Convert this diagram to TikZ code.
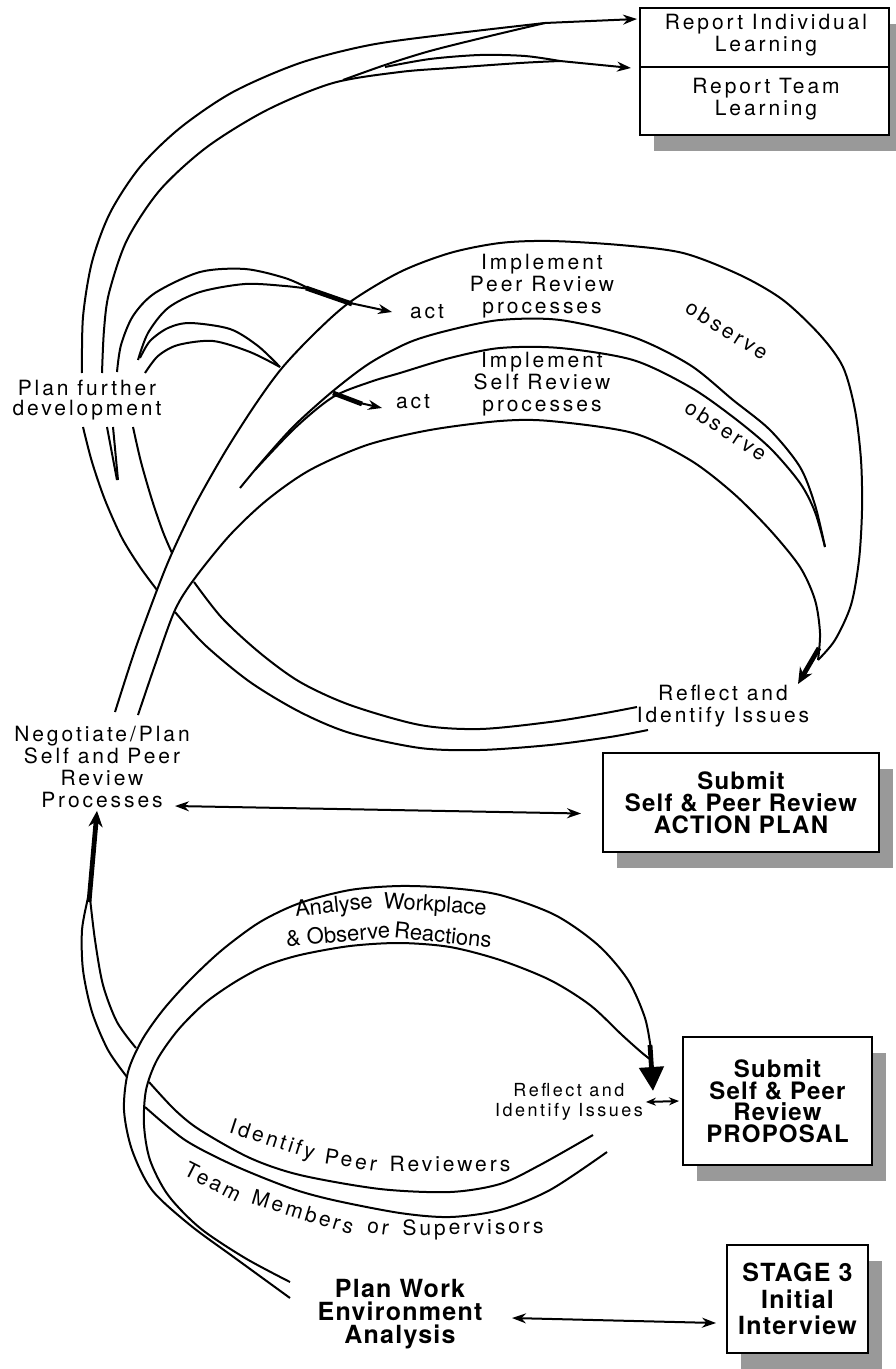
\documentclass[tikz,border=0pt]{standalone}
\usepackage{fontspec}
\setmainfont{TeX Gyre Heros}
\newfontfamily\lblfont{TeX Gyre Heros}[LetterSpace=14]
\newfontfamily\boxfont{TeX Gyre Heros}[LetterSpace=5]
\newfontfamily\curvefont{TeX Gyre Heros}
\usetikzlibrary{arrows.meta, shadows}
\tikzset{
	arrow/.style={
		draw=black,
		line width=1pt,
		-{Stealth[length=7pt,width=5pt]}
	},
	dblarrow/.style={
		draw=black,
		line width=1pt,
		{Stealth[length=7pt,width=5pt]}-{Stealth[length=7pt,width=5pt]}
	},
	fatarrow/.style={
		draw=black,
		line width=2.4pt,
		-{Stealth[length=8pt,width=7pt]}
	},
	lbl/.style={
		font=\lblfont\fontsize{10.5}{11}\selectfont,
		align=center,
		inner sep=1pt
	},
	anlbl/.style={
		font=\curvefont\fontsize{11}{11}\selectfont,
		inner sep=1pt
	},
	shadowbox/.style={
		draw=black,
		fill=white,
		line width=1pt,
		align=center,
		inner sep=1pt,
		font=\boxfont\bfseries\fontsize{12}{11}\selectfont,
		drop shadow={shadow xshift=7pt, shadow yshift=-8pt, fill=black!40, opacity=1}
	},
}

\begin{document}
\begin{tikzpicture}[x=0.5pt, y=-0.5pt, line width=1pt]
\useasboundingbox (0,0) rectangle (895,1369);

% Report boxes
\node[shadowbox, minimum width=124.5pt, minimum height=63.5pt] (RepBox) at (764.5,71.5) {};
\node[lbl, font=\lblfont\fontsize{10.5}{9.5}\selectfont] (RepInd) at (766,35) {Report Individual\\Learning};
\node[lbl, font=\lblfont\fontsize{10.5}{9.5}\selectfont] (RepTeam) at (766,99) {Report Team\\Learning};
\coordinate (RepMid) at (764.5,67);
\draw (RepBox.west |- RepMid) -- (RepBox.east |- RepMid);
\path (RepBox.north west) ++(-2,12) coordinate (RepIn1);
\path (RepBox.west |- RepMid) ++(-8,1) coordinate (RepIn2);

% Submission boxes
\node[shadowbox, minimum width=138pt, minimum height=49.5pt] (ActPlan) at (741,802.5) {Submit\\Self \& Peer Review\\ACTION PLAN};
\node[shadowbox, minimum width=94.5pt, minimum height=64pt, font=\boxfont\bfseries\fontsize{12}{10.8}\selectfont] (Proposal) at (777.5,1101) {Submit\\Self \& Peer\\Review\\PROPOSAL};
\node[shadowbox, minimum width=70.5pt, minimum height=54pt, font=\boxfont\bfseries\fontsize{12.5}{13.2}\selectfont] (Stage) at (797.5,1299) {STAGE 3\\Initial\\Interview};

% Labels
\node[lbl, font=\lblfont\fontsize{10.5}{10}\selectfont] (PlanFurther) at (87,400) {Plan further\\development};
\node[lbl] (NegPlan) at (102,767) {Negotiate/Plan\\Self and Peer\\Review\\Processes};
\node[lbl] (RefTop) at (723,706) {Reflect and\\Identify Issues};
\node[lbl] (ImplPeer) at (542,286) {Implement\\Peer Review\\processes};
\node[lbl] (ImplSelf) at (542,384) {Implement\\Self Review\\processes};
\node[lbl] (ActPeer) at (427,312) {act};
\node[lbl] (ActSelf) at (413,402) {act};
\node[lbl, font=\lblfont\fontsize{9}{10}\selectfont] (RefLow) at (569,1102) {Reflect and\\Identify Issues};
\node[lbl, font=\boxfont\bfseries\fontsize{12.5}{11.5}\selectfont] (PlanWork) at (400,1314) {Plan Work\\Environment\\Analysis};

% Top ribbon to the report boxes
\draw plot[smooth] coordinates {(82,373) (83,317) (92,262) (110,213) (140,167) (180,128) (233,92) (300,63) (370,45) (450,34) (545,23)};
\draw plot[smooth] coordinates {(343,80) (385,65) (430,51) (490,36) (545,23)};
\draw[arrow] (545,23) -- (RepIn1);
\draw plot[smooth] coordinates {(385,67) (430,59) (480,55) (525,56) (560,61)};
\draw plot[smooth] coordinates {(102,373) (104,330) (109,293) (127,240) (160,190) (207,147) (267,110) (333,83) (400,72) (450,68) (520,63) (560,61)};
\draw[arrow] (560,61) -- (RepIn2);

% Act arrows
\draw plot[smooth] coordinates {(117,372) (121,345) (133,316) (155,293) (200,272) (245,269) (285,278) (310,289)};
\draw plot[smooth] coordinates {(138,360) (148,333) (168,308) (200,292) (245,284) (285,286) (310,289)};
\draw[line width=2.4pt] (306,288) -- (352,304);
\draw[arrow] (350,303) -- ([xshift=-7.5pt]ActPeer.west);
\draw plot[smooth] coordinates {(140,358) (150,341) (168,328) (190,323) (230,329) (258,346) (280,367)};
\draw plot[smooth] coordinates {(145,373) (158,356) (178,345) (213,341) (250,352) (280,367)};
\draw[line width=2.4pt] (333,393) -- (362,404);
\draw[arrow] (360,403) -- ([xshift=-5.5pt,yshift=-3pt]ActSelf.west);

% Peer and self review cycles
\draw plot[smooth] coordinates {(115,712) (135,650) (157,590) (172,553) (195,505) (225,452) (255,405) (282,368) (315,333) (350,302) (400,272) (450,253) (500,243) (550,241) (620,245) (683,253) (740,275) (783,300) (820,335) (843,367) (855,410) (861,460) (862,510) (859,560) (851,605) (835,640) (818,660)};
\draw plot[smooth] coordinates {(138,715) (155,665) (175,610) (195,578) (230,535) (267,500) (310,470) (367,445) (430,430) (500,421) (550,421) (633,433) (690,460) (733,493) (770,530) (800,567) (815,600) (820,633) (818,660)};
\draw plot[smooth] coordinates {(240,488) (265,458) (295,425) (333,391) (370,363) (410,342) (450,330) (500,320) (560,320) (633,337) (690,365) (733,400) (770,430) (800,467) (815,505) (825,547)};
\draw plot[smooth] coordinates {(255,470) (295,428) (333,397) (370,382) (400,373) (450,358) (500,348) (560,348) (633,360) (690,387) (733,417) (770,448) (800,483) (815,512) (825,547)};
\coordinate (RefTip) at (798,684);
\draw[fatarrow] (819,648) -- (RefTip);
\node[lbl, rotate=-32] (ObsPeer) at (727,330) {observe};
\node[lbl, rotate=-33] (ObsSelf) at (726,430) {observe};

% Reflection loop back to further development
\draw plot[smooth] coordinates {(83,427) (92,462) (105,500) (122,538) (140,567) (157,590)};
\draw plot[smooth] coordinates {(175,612) (205,645) (250,682) (300,712) (350,733) (420,748) (480,750) (550,745) (610,737) (648,730)};
\draw plot[smooth] coordinates {(133,427) (141,462) (152,500) (163,532) (172,553)};
\draw plot[smooth] coordinates {(194,582) (222,618) (260,653) (300,682) (350,705) (420,725) (480,729) (550,722) (600,714) (637,707)};
\draw (107,427) -- (117,480);
\draw (113,427) -- (118,480);

% Peer reviewer ribbon
\draw[fatarrow] (89,902) -- ([xshift=-2.5pt]NegPlan.south);
\draw plot[smooth] coordinates {(88,898) (82,930) (83,970) (92,1012) (108,1050) (127,1077)};
\draw plot[smooth] coordinates {(145,1107) (185,1140) (233,1165) (290,1188) (333,1200) (400,1213) (450,1217) (500,1210) (550,1190) (607,1152)};
\draw plot[smooth] coordinates {(90,898) (95,940) (103,985) (117,1022) (136,1048)};
\draw plot[smooth] coordinates {(149,1082) (175,1110) (200,1130) (250,1158) (300,1175) (380,1189) (450,1192) (500,1184) (540,1165) (593,1135)};
\node[lbl, rotate=-18] (IdWord) at (272,1141) {Identify};
\node[lbl, rotate=-9] (PeerWord) at (351,1160) {Peer};
\node[lbl] (RevWord) at (450,1164) {Reviewers};
\node[lbl, rotate=-27] (TeamWord) at (213,1182) {Team};
\node[lbl, rotate=-17] (MemWord) at (303,1212) {Members};
\node[lbl, rotate=-8] (OrWord) at (378,1229) {or};
\node[lbl, rotate=1] (SupWord) at (473,1229) {Supervisors};

% Workplace analysis ribbon
\draw plot[smooth] coordinates {(290,1298) (235,1258) (190,1225) (152,1190) (132,1150) (124,1110) (128,1072) (142,1040) (163,1010) (190,980) (222,950) (260,922) (300,903) (350,890) (400,886) (450,888) (500,895) (555,915) (598,945) (628,980) (645,1018) (651,1050)};
\draw plot[smooth] coordinates {(290,1282) (245,1258) (200,1228) (168,1195) (150,1160) (144,1125) (146,1090) (157,1060) (178,1030) (205,1003) (235,982) (265,966) (300,955) (350,946) (400,943) (450,947) (500,960) (550,980) (590,1005) (622,1035) (641,1052) (651,1060)};
\coordinate (AnTip) at (653,1091);
\draw[line width=2.4pt, -{Triangle[length=12pt,width=12pt]}] (650,1045) -- (AnTip);
\node[anlbl, rotate=6] (AnWord) at (334,907) {Analyse};
\node[anlbl, rotate=-4] (WorkWord) at (435,906) {Workplace};
\node[anlbl, rotate=4.5] (ObsWord) at (338,934) {\& Observe};
\node[anlbl, rotate=-6] (ReacWord) at (443,935) {Reactions};

% Links to the submissions
\coordinate (NegR) at (175,806);
\draw[dblarrow] (NegR) -- ([xshift=-10.5pt,yshift=-5.5pt]ActPlan.west);
\draw[dblarrow, {Stealth[length=5pt,width=4pt]}-{Stealth[length=5pt,width=4pt]}] (RefLow.east) -- ([xshift=-1.5pt]Proposal.west);
\coordinate (PlanWorkR) at (512,1318);
\draw[dblarrow] (PlanWorkR) -- ([xshift=-5pt,yshift=-12pt]Stage.west);

\end{tikzpicture}
\end{document}
